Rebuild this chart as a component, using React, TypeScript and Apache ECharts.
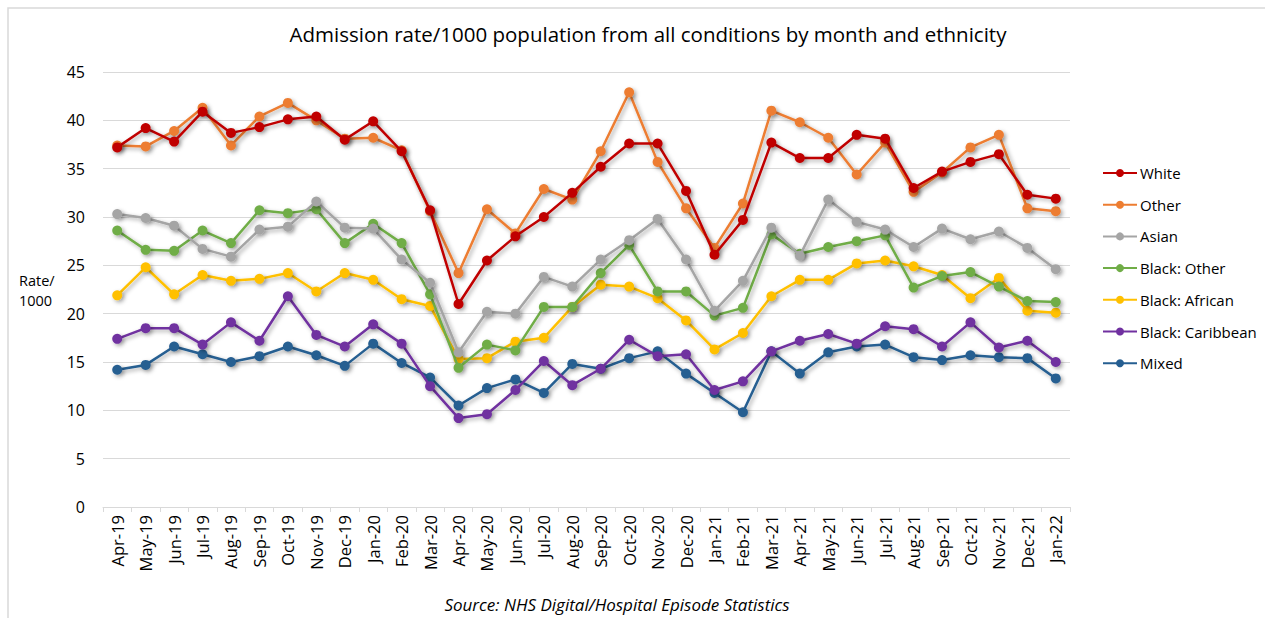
import React, { useEffect, useRef } from "react";
import * as echarts from "echarts";

const months = [
  "Apr-19", "May-19", "Jun-19", "Jul-19", "Aug-19", "Sep-19", "Oct-19", "Nov-19", "Dec-19",
  "Jan-20", "Feb-20", "Mar-20", "Apr-20", "May-20", "Jun-20", "Jul-20", "Aug-20", "Sep-20",
  "Oct-20", "Nov-20", "Dec-20", "Jan-21", "Feb-21", "Mar-21", "Apr-21", "May-21", "Jun-21",
  "Jul-21", "Aug-21", "Sep-21", "Oct-21", "Nov-21", "Dec-21", "Jan-22",
];

const white = [37.2, 39.2, 37.8, 40.9, 38.7, 39.3, 40.1, 40.4, 38.0, 39.9, 36.8, 30.7, 21.0, 25.5, 28.0, 30.0, 32.5, 35.2, 37.6, 37.6, 32.7, 26.1, 29.7, 37.7, 36.1, 36.1, 38.5, 38.1, 33.0, 34.7, 35.7, 36.5, 32.3, 31.9];
const other = [37.4, 37.3, 38.9, 41.3, 37.4, 40.4, 41.8, 40.0, 38.1, 38.2, 36.9, 30.6, 24.2, 30.8, 28.3, 32.9, 31.8, 36.8, 42.9, 35.7, 30.9, 26.8, 31.4, 41.0, 39.8, 38.2, 34.4, 37.7, 32.6, 34.6, 37.2, 38.5, 30.9, 30.6];
const asian = [30.3, 29.9, 29.1, 26.7, 25.9, 28.7, 29.0, 31.6, 28.9, 28.8, 25.6, 23.2, 16.0, 20.2, 20.0, 23.8, 22.8, 25.6, 27.6, 29.8, 25.6, 20.3, 23.4, 28.9, 26.0, 31.8, 29.5, 28.7, 26.9, 28.8, 27.7, 28.5, 26.8, 24.6];
const blackOther = [28.6, 26.6, 26.5, 28.6, 27.3, 30.7, 30.4, 30.8, 27.3, 29.3, 27.3, 22.0, 14.4, 16.8, 16.2, 20.7, 20.7, 24.2, 27.1, 22.3, 22.3, 19.8, 20.6, 28.2, 26.2, 26.9, 27.5, 28.1, 22.7, 23.9, 24.3, 22.8, 21.3, 21.2];
const blackAfrican = [21.9, 24.8, 22.0, 24.0, 23.4, 23.6, 24.2, 22.3, 24.2, 23.5, 21.5, 20.8, 15.3, 15.4, 17.1, 17.5, 20.7, 23.0, 22.8, 21.6, 19.3, 16.3, 18.0, 21.8, 23.5, 23.5, 25.2, 25.5, 24.9, 24.0, 21.6, 23.7, 20.3, 20.1];
const blackCaribbean = [17.4, 18.5, 18.5, 16.8, 19.1, 17.2, 21.8, 17.8, 16.6, 18.9, 16.9, 12.5, 9.2, 9.6, 12.1, 15.1, 12.6, 14.3, 17.3, 15.6, 15.8, 12.1, 13.0, 16.1, 17.2, 17.9, 16.9, 18.7, 18.4, 16.6, 19.1, 16.5, 17.2, 15.0];
const mixed = [14.2, 14.7, 16.6, 15.8, 15.0, 15.6, 16.6, 15.7, 14.6, 16.9, 14.9, 13.4, 10.5, 12.3, 13.2, 11.8, 14.8, 14.3, 15.4, 16.1, 13.8, 11.8, 9.8, 16.1, 13.8, 16.0, 16.6, 16.8, 15.5, 15.2, 15.7, 15.5, 15.4, 13.3];

const seriesNames = ["White", "Other", "Asian", "Black: Other", "Black: African", "Black: Caribbean", "Mixed"];
const seriesData = [white, other, asian, blackOther, blackAfrican, blackCaribbean, mixed];
const seriesColors = ["#C00000", "#ED7D31", "#A5A5A5", "#70AD47", "#FFC000", "#7030A0", "#255E91"];

const yTicks = { min: 0, max: 45, interval: 5 };

const FONT = "'Open Sans', 'Liberation Sans', sans-serif";

export default function App() {
  const ref = useRef<HTMLDivElement>(null);

  useEffect(() => {
    if (!ref.current) return;
    const chart = echarts.init(ref.current, null, { renderer: "svg" });
    chart.setOption({
      animation: false,
      backgroundColor: "#ffffff",
      title: {
        text: "Admission rate/1000 population from all conditions by month and ethnicity",
        left: 643,
        textAlign: "center",
        top: 18,
        textStyle: { fontFamily: FONT, fontSize: 20.5, fontWeight: "normal", color: "#000000" },
      },
      legend: {
        orient: "vertical",
        left: 1097,
        top: 158,
        itemWidth: 34,
        itemHeight: 10,
        itemGap: 11.7,
        data: seriesNames,
        textStyle: { fontFamily: FONT, fontSize: 15, color: "#000000", lineHeight: 20, padding: [0, 0, 0, -2] },
      },
      grid: { left: 103, right: 195, top: 72, bottom: 111, containLabel: false },
      xAxis: {
        type: "category",
        data: months,
        boundaryGap: true,
        axisLine: { lineStyle: { color: "#D9D9D9" } },
        axisTick: { show: true, length: 5, lineStyle: { color: "#D9D9D9" }, alignWithLabel: false },
        axisLabel: {
          rotate: 90,
          interval: 0,
          margin: 8,
          fontFamily: FONT,
          fontSize: 16.5,
          color: "#000000",
        },
      },
      yAxis: {
        type: "value",
        min: yTicks.min,
        max: yTicks.max,
        interval: yTicks.interval,
        axisLine: { show: false },
        axisTick: { show: false },
        splitLine: { lineStyle: { color: "#D9D9D9", width: 1 } },
        axisLabel: { fontFamily: FONT, fontSize: 16, color: "#000000", margin: 18 },
      },
      graphic: [
        {
          type: "rect",
          shape: { x: 8, y: 8, width: 1400, height: 800 },
          style: { fill: "none", stroke: "#D9D9D9", lineWidth: 1.5 },
          silent: true,
        },
        {
          type: "text",
          x: 19,
          y: 270,
          style: { text: "Rate/\n1000", fontFamily: FONT, fontSize: 14.5, fill: "#000000", lineHeight: 20 },
        },
        {
          type: "text",
          x: 617,
          y: 604,
          style: {
            text: "Source: NHS Digital/Hospital Episode Statistics",
            fontFamily: FONT,
            fontSize: 17,
            fontStyle: "italic",
            fill: "#000000",
            textAlign: "center",
            textVerticalAlign: "middle",
          },
        },
      ],
      series: seriesNames.map((name, i) => ({
        name,
        type: "line",
        data: seriesData[i],
        symbol: "circle",
        symbolSize: 10,
        color: seriesColors[i],
        lineStyle: {
          width: 2.5,
          color: seriesColors[i],
          shadowColor: "rgba(0,0,0,0.35)",
          shadowBlur: 4,
          shadowOffsetX: 2,
          shadowOffsetY: 2,
        },
        itemStyle: {
          color: seriesColors[i],
          shadowColor: "rgba(0,0,0,0.35)",
          shadowBlur: 4,
          shadowOffsetX: 2,
          shadowOffsetY: 2,
        },
        z: 10 - i,
      })),
    });
    return () => chart.dispose();
  }, []);

  return (
    <div
      ref={ref}
      style={{ position: "absolute", left: 0, top: 0, width: 1265, height: 618 }}
    />
  );
}
